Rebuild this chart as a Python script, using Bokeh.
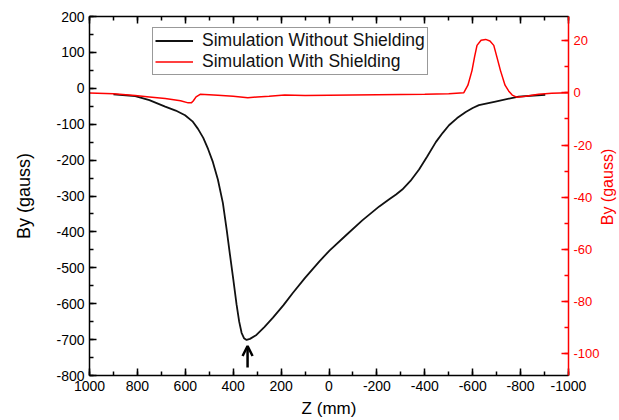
import math
from bokeh.plotting import figure
from bokeh.models import (Range1d, LinearAxis, SingleIntervalTicker, Legend,
                          LegendItem, Arrow, OpenHead, Label, NumeralTickFormatter)
from bokeh.embed import file_html
from bokeh.resources import INLINE

# Simulation without shielding (left axis, gauss)
z_without = [900, 809, 750, 684, 640, 601, 570, 547, 525, 505, 485, 464, 443,
             427, 414, 400, 386, 375, 365, 355, 344, 330, 303, 270, 234, 190,
             152, 100, 40, -2, -70, -139, -210, -250, -280, -306, -340, -376,
             -410, -446, -475, -501, -535, -571, -600, -626, -695, -792, -903]
by_without = [-17, -22, -33, -51, -62, -75, -92, -113, -138, -169, -205, -254,
              -320, -395, -461, -530, -602, -650, -681, -696, -701, -698, -687,
              -665, -639, -604, -571, -528, -482, -452, -410, -368, -329, -310,
              -296, -282, -258, -226, -190, -150, -124, -103, -83, -66, -55,
              -47, -37, -23, -18]

# Simulation with shielding (right axis, gauss)
z_with = [1000, 900, 809, 750, 684, 620, 588, 575, 567, 555, 538, 500, 464,
          400, 339, 300, 250, 185, 100, 0, -100, -200, -300, -400, -500,
          -563, -580, -597, -608, -618, -635, -654, -672, -688, -702, -716,
          -735, -750, -765, -784, -821, -875, -930, -1000]
by_with = [0.0, -0.3, -1.0, -1.5, -2.1, -3.0, -3.8, -3.8, -3.1, -1.5, -0.5,
           -0.7, -0.9, -1.3, -1.8, -1.5, -1.3, -0.8, -1.0, -0.9, -0.8, -0.7,
           -0.6, -0.5, -0.3, 0.1, 3.0, 8.6, 14.0, 18.3, 20.3, 20.6, 20.0,
           18.3, 13.5, 8.6, 3.0, 0.8, -0.8, -1.6, -1.3, -0.5, -0.1, 0.1]

labels = ["Simulation Without Shielding", "Simulation With Shielding"]
x_title = "Z (mm)"
y_title = "By (gauss)"

# arrow marking the minimum
arrow_z = 340
arrow_from = -778
arrow_to = -718

FONT = "Liberation Sans"
RED = "#ff0000"

p = figure(width=619, height=420, output_backend="svg", toolbar_location=None,
           x_range=Range1d(1000, -1000), y_range=Range1d(-800, 200),
           min_border_left=89, min_border_top=16, min_border_right=49,
           min_border_bottom=30, x_axis_location=None, y_axis_location=None)
p.outline_line_color = None
p.grid.visible = False
p.background_fill_color = "white"
p.extra_y_ranges = {"right": Range1d(-108.6, 29.4)}

def style(ax, color="black"):
    ax.axis_line_color = color
    ax.axis_line_width = 1.5
    ax.major_tick_line_color = color
    ax.minor_tick_line_color = color
    ax.major_tick_line_width = 1.5
    ax.minor_tick_line_width = 1.5
    ax.major_tick_in = 7
    ax.major_tick_out = 0
    ax.minor_tick_in = 4
    ax.minor_tick_out = 0
    ax.formatter = NumeralTickFormatter(format="0")
    ax.major_label_text_font = FONT
    ax.major_label_text_font_size = "14px"
    ax.major_label_text_color = color
    ax.axis_label_text_font = FONT
    ax.axis_label_text_font_size = "18px"
    ax.axis_label_text_font_style = "normal"
    ax.axis_label_text_color = color

bottom = LinearAxis(ticker=SingleIntervalTicker(interval=200, num_minor_ticks=2),
                    axis_label=x_title)
style(bottom)
bottom.axis_label_text_font_size = "17px"
bottom.major_label_standoff = 5
bottom.axis_label_standoff = 5
p.add_layout(bottom, "below")

top = LinearAxis(ticker=SingleIntervalTicker(interval=200, num_minor_ticks=2))
style(top)
top.major_label_text_font_size = "1px"
top.major_label_text_color = None
top.major_label_standoff = 0
p.add_layout(top, "above")

left = LinearAxis(ticker=SingleIntervalTicker(interval=100, num_minor_ticks=2),
                  axis_label=y_title)
style(left)
left.major_label_standoff = 5
left.axis_label_standoff = 19
p.add_layout(left, "left")

right = LinearAxis(y_range_name="right",
                   ticker=SingleIntervalTicker(interval=20, num_minor_ticks=2))
style(right, RED)
right.major_label_text_font_size = "13px"
right.major_label_standoff = 5
p.add_layout(right, "right")

# right axis title, reading bottom-to-top like the left one
p.add_layout(Label(x=-1162, y=-275, text=y_title, angle=math.pi / 2,
                   text_align="center", text_baseline="middle",
                   text_color=RED, text_font=FONT, text_font_size="16px"),
             "right")

r1 = p.line(z_without, by_without, line_color="#111111", line_width=1.8)
r2 = p.line(z_with, by_with, line_color=RED, line_width=1.5, y_range_name="right")

legend = Legend(items=[LegendItem(label=labels[0], renderers=[r1]),
                       LegendItem(label=labels[1], renderers=[r2])],
                location=(63, 300))
legend.label_text_font = FONT
legend.label_text_font_size = "17.5px"
legend.label_text_color = "#111111"
legend.border_line_color = "#333333"
legend.border_line_width = 1
legend.padding = 2
legend.margin = 0
legend.spacing = 0
legend.glyph_width = 38
legend.glyph_height = 19
legend.label_height = 19
legend.label_standoff = 9
p.add_layout(legend, "center")

p.add_layout(Arrow(end=OpenHead(size=10, line_width=2.5, line_color="black"),
                   x_start=arrow_z, y_start=arrow_from,
                   x_end=arrow_z, y_end=arrow_to,
                   line_width=2.5, line_color="black"))

open("out.html", "w").write(file_html(p, INLINE))
